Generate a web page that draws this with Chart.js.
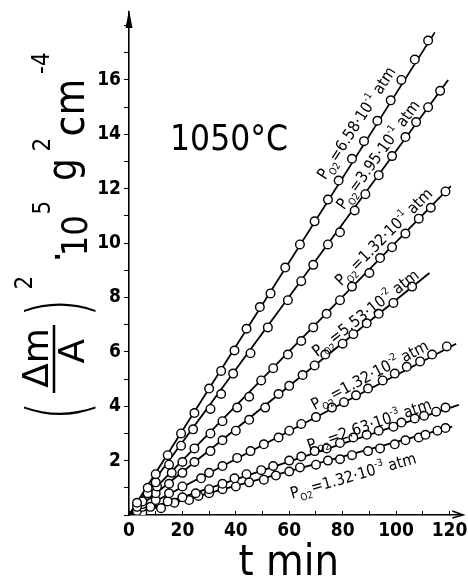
<!DOCTYPE html>
<html>
<head>
<meta charset="utf-8">
<script src="https://cdn.jsdelivr.net/npm/chart.js@4.4.1/dist/chart.umd.min.js"></script>
<style>
  html, body { margin: 0; padding: 0; background: #fff; }
  #wrap { width: 468px; height: 580px; }
</style>
</head>
<body>
<div id="wrap"><canvas id="c" width="468" height="580"></canvas></div>
<script>
// measured points, t in min, (dm/A)^2 * 10^5 in g^2 cm^-4
var t1 = [3, 7, 10, 14.5, 19.5, 24.5, 30, 34.5, 39.5, 44, 49, 53, 58.5, 64, 69.5, 74.5, 78.5, 83.5, 88, 93, 98, 102, 107, 112];
var v1 = [0.45, 1.0, 1.5, 2.2, 3.0, 3.75, 4.65, 5.3, 6.05, 6.85, 7.65, 8.15, 9.1, 9.95, 10.8, 11.6, 12.3, 13.1, 13.75, 14.5, 15.25, 16.0, 16.75, 17.45];
var t2 = [3, 7, 10, 15, 19.5, 24, 30.5, 34.5, 39, 45.5, 52, 59.5, 64.5, 69, 74.5, 79, 84.5, 88.5, 93.5, 98.5, 103.5, 107.5, 112, 116.5];
var v2 = [0.3, 0.8, 1.2, 1.85, 2.55, 3.15, 3.9, 4.45, 5.2, 5.95, 6.9, 7.9, 8.6, 9.2, 9.95, 10.4, 11.2, 11.8, 12.5, 13.2, 13.9, 14.45, 15.0, 15.6];
var t3 = [5, 10.5, 16, 20, 24.5, 30.5, 35, 40.5, 45, 49.5, 54, 59.5, 64.5, 69, 74, 79, 83.5, 90, 94, 98.5, 103.5, 108.5, 113, 118.5];
var v3 = [0.5, 1.05, 1.55, 1.95, 2.45, 3.0, 3.45, 3.95, 4.35, 4.95, 5.4, 5.9, 6.4, 6.9, 7.4, 7.9, 8.4, 8.9, 9.45, 9.85, 10.35, 10.9, 11.3, 11.9];
var t4 = [5, 10, 15, 20, 24.5, 30.5, 35, 40, 45, 51, 56, 60, 65, 69.5, 73.5, 80, 84, 89, 93.5, 99, 106];
var v4 = [0.4, 0.8, 1.15, 1.55, 1.95, 2.35, 2.75, 3.1, 3.5, 3.95, 4.45, 4.75, 5.15, 5.5, 5.9, 6.3, 6.65, 7.05, 7.4, 7.8, 8.4];
var t5 = [5, 10, 15, 20, 27, 30, 35, 40.5, 45.5, 50.5, 56, 60, 64.5, 70, 76, 80.5, 85, 89.5, 95, 99.5, 104, 109, 113.5, 119];
var v5 = [0.3, 0.55, 0.8, 1.05, 1.35, 1.55, 1.8, 2.1, 2.35, 2.6, 2.85, 3.1, 3.35, 3.6, 3.95, 4.15, 4.4, 4.65, 4.95, 5.2, 5.45, 5.65, 5.9, 6.2];
var t6 = [3, 8, 14.5, 20, 25, 30, 35, 39.5, 44, 49.5, 54, 60, 64.5, 69.5, 74, 79, 84, 89, 93.5, 99, 102, 107, 110.5, 115, 118.5];
var v6 = [0.15, 0.3, 0.5, 0.65, 0.8, 0.95, 1.15, 1.35, 1.5, 1.65, 1.8, 2.0, 2.15, 2.35, 2.45, 2.65, 2.85, 2.95, 3.1, 3.25, 3.4, 3.55, 3.65, 3.8, 3.95];
var t7 = [5, 12, 17, 22.5, 26, 30, 35, 40, 45, 50.5, 55, 60, 64, 70, 74.5, 79, 83.5, 89.5, 94, 99.5, 103.5, 108.5, 111, 115.5, 118.5];
var v7 = [0.1, 0.25, 0.45, 0.55, 0.7, 0.8, 0.95, 1.05, 1.2, 1.3, 1.45, 1.6, 1.75, 1.85, 2.0, 2.05, 2.2, 2.35, 2.45, 2.6, 2.75, 2.85, 2.95, 3.1, 3.2];

// end of each drawn straight line (all start at the origin)
var fitEndT = [114.5, 119.5, 120.5, 112.5, 122.5, 123.5, 121];
var fitEndV = [17.75, 16.0, 12.1, 8.9, 6.3, 4.05, 3.25];

// oxygen pressure of each run: mantissa . 10^exponent atm
var pMant = ['6.58', '3.95', '1.32', '5.53', '1.32', '2.63', '1.32'];
var pExp = ['-1', '-1', '-1', '-2', '-2', '-3', '-3'];

var xTicks = [0, 20, 40, 60, 80, 100, 120];
var yTicks = [2, 4, 6, 8, 10, 12, 14, 16];

var allT = [t1, t2, t3, t4, t5, t6, t7];
var allV = [v1, v2, v3, v4, v5, v6, v7];

// where the pressure labels sit (data coords of baseline start) and their tilt
var labelPos = [
    { x: 73.5, y: 12.3, a: -57 },
    { x: 80.5, y: 11.2, a: -54 },
    { x: 79.5, y: 8.4, a: -45 },
    { x: 70.5, y: 5.8, a: -38 },
    { x: 69.5, y: 3.85, a: -28 },
    { x: 67.5, y: 2.35, a: -19 },
    { x: 61, y: 0.6, a: -16 }
];

var NARROW = '"Liberation Sans Narrow", "DejaVu Sans Condensed", "Liberation Sans", sans-serif';
var PAREN = '300 80px "DejaVu Sans", sans-serif';

var datasets = [];
allT.forEach(function(ts, i) {
    datasets.push({
        data: [{ x: 0, y: 0 }, { x: fitEndT[i], y: fitEndV[i] }],
        showLine: true,
        borderColor: '#000',
        borderWidth: 1.8,
        pointRadius: 0,
        order: 2
    });
    datasets.push({
        data: ts.map(function(t, k) { return { x: t, y: allV[i][k] }; }),
        showLine: false,
        pointRadius: 4.3,
        pointBackgroundColor: '#fff',
        pointBorderColor: '#000',
        pointBorderWidth: 1.4,
        order: 1
    });
});

// draw text with its ink box centred on (cx, cy); sx squeezes along the baseline
function putCentered(ctx, text, font, cx, cy, rot, sx) {
    ctx.save();
    ctx.font = font;
    var m = ctx.measureText(text);
    var mu = (m.actualBoundingBoxRight - m.actualBoundingBoxLeft) / 2;
    var mw = (m.actualBoundingBoxDescent - m.actualBoundingBoxAscent) / 2;
    ctx.translate(cx, cy);
    ctx.rotate(rot);
    if (sx) ctx.scale(sx, 1);
    ctx.textAlign = 'left';
    ctx.textBaseline = 'alphabetic';
    ctx.fillText(text, -mu, -mw);
    ctx.restore();
}

function richText(ctx, x, y, angle, parts, size) {
    ctx.save();
    ctx.translate(x, y);
    ctx.rotate(angle * Math.PI / 180);
    ctx.textAlign = 'left';
    ctx.textBaseline = 'alphabetic';
    var u = 0;
    parts.forEach(function(p) {
        var k = p.k || 1;
        ctx.font = (size * k) + 'px ' + NARROW;
        ctx.fillText(p.s, u, (p.dy || 0) * size);
        u += ctx.measureText(p.s).width;
    });
    ctx.restore();
}

var decor = {
    id: 'decor',
    afterDraw: function(chart) {
        var ctx = chart.ctx;
        var xs = chart.scales.x, ys = chart.scales.y;
        var ca = chart.chartArea;
        ctx.save();
        ctx.fillStyle = '#000';
        ctx.strokeStyle = '#000';

        // axis arrows
        ctx.beginPath();
        ctx.moveTo(ca.left, ca.top - 2);
        ctx.lineTo(ca.left - 3.5, ca.top + 16);
        ctx.lineTo(ca.left + 3.5, ca.top + 16);
        ctx.closePath();
        ctx.fill();
        ctx.lineWidth = 1.4;
        ctx.beginPath();
        ctx.moveTo(ca.right - 10, ca.bottom - 4);
        ctx.lineTo(ca.right + 1, ca.bottom);
        ctx.lineTo(ca.right - 10, ca.bottom + 3);
        ctx.stroke();

        // y axis title
        var R = -Math.PI / 2;
        putCentered(ctx, '(', PAREN, 60, 411, R, 0.6);
        putCentered(ctx, ')', PAREN, 60, 308, R, 0.6);
        putCentered(ctx, 'Δm', '36px "DejaVu Sans", sans-serif', 35, 359, R);
        putCentered(ctx, 'A', '36px "DejaVu Sans", sans-serif', 71, 351, R);
        ctx.lineWidth = 2.5;
        ctx.beginPath();
        ctx.moveTo(54, 325);
        ctx.lineTo(54, 393);
        ctx.stroke();
        putCentered(ctx, '2', '24px ' + NARROW, 23, 283, R);
        putCentered(ctx, '·', '40px ' + NARROW, 57, 257, R);
        putCentered(ctx, '10', '36px ' + NARROW, 74, 235, R);
        putCentered(ctx, '5', '24px ' + NARROW, 41, 208, R);
        putCentered(ctx, 'g', '40px ' + NARROW, 69, 170, R);
        putCentered(ctx, '2', '24px ' + NARROW, 41, 145, R);
        putCentered(ctx, 'cm', '42px ' + NARROW, 72, 108, R);
        putCentered(ctx, '-4', '24px ' + NARROW, 40, 63, R);

        // x axis title and temperature
        putCentered(ctx, 't min', '43px ' + NARROW, 288, 558, 0);
        putCentered(ctx, '1050°C', '35px ' + NARROW, 230, 137, 0);

        // pressure labels
        labelPos.forEach(function(lp, i) {
            var px = xs.getPixelForValue(lp.x), py = ys.getPixelForValue(lp.y);
            richText(ctx, px, py, lp.a, [
                { s: 'P' },
                { s: 'O2', k: 0.62, dy: 0.3 },
                { s: '=' },
                { s: pMant[i] + '·10' },
                { s: pExp[i], k: 0.62, dy: -0.45 },
                { s: ' atm' }
            ], 16);
        });
        ctx.restore();
    }
};

var ctx = document.getElementById('c').getContext('2d');
var chart = new Chart(ctx, {
    type: 'scatter',
    data: { datasets: datasets },
    options: {
        responsive: false,
        animation: false,
        layout: { padding: { left: 0, right: 2, top: 12, bottom: 0 } },
        plugins: { legend: { display: false }, tooltip: { enabled: false } },
        scales: {
            x: {
                type: 'linear',
                min: 0,
                max: 124.8,
                afterFit: function(s) { s.height = 65; s.paddingLeft = 0; s.paddingRight = 0; },
                // ticks point up into the plot, as in the original
                grid: { drawOnChartArea: false, color: '#000', tickLength: -4 },
                border: { color: '#000', width: 1.6 },
                ticks: {
                    stepSize: 10,
                    includeBounds: false,
                    maxRotation: 0,
                    autoSkip: false,
                    padding: 9,
                    color: '#000',
                    font: { family: NARROW, size: 19, weight: 'bold' },
                    callback: function(v) { return xTicks.indexOf(v) >= 0 ? String(v) : ''; }
                }
            },
            y: {
                type: 'linear',
                min: 0,
                max: 18.5,
                afterFit: function(s) { s.width = 129; s.paddingTop = 0; s.paddingBottom = 0; },
                grid: { drawOnChartArea: false, color: '#000', tickLength: 5 },
                border: { color: '#000', width: 1.6 },
                ticks: {
                    stepSize: 1,
                    includeBounds: false,
                    autoSkip: false,
                    padding: 3,
                    color: '#000',
                    font: { family: NARROW, size: 19, weight: 'bold' },
                    callback: function(v) { return yTicks.indexOf(v) >= 0 ? String(v) : ''; }
                }
            }
        }
    },
    plugins: [decor]
});
</script>
</body>
</html>
